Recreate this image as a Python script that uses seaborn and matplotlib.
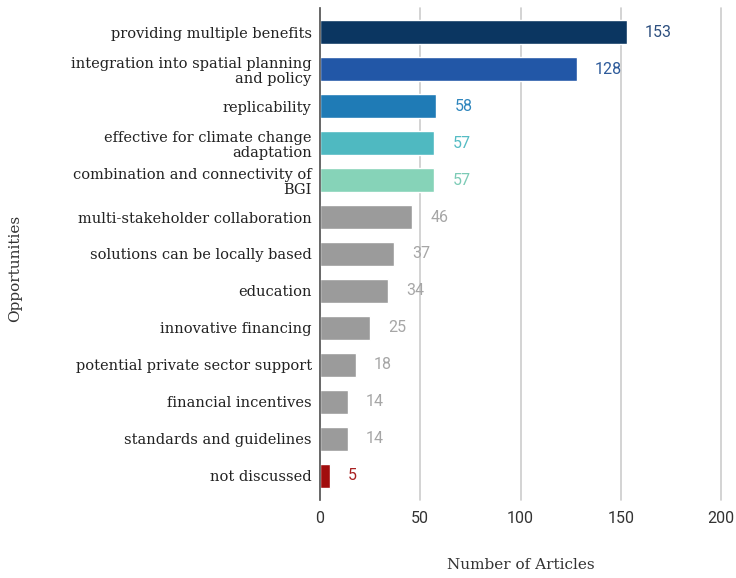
import matplotlib
matplotlib.use("Agg")
import matplotlib.pyplot as plt
import seaborn as sns
import pandas as pd

categories = [
    "providing multiple benefits",
    "integration into spatial planning\nand policy",
    "replicability",
    "effective for climate change\nadaptation",
    "combination and connectivity of\nBGI",
    "multi-stakeholder collaboration",
    "solutions can be locally based",
    "education",
    "innovative financing",
    "potential private sector support",
    "financial incentives",
    "standards and guidelines",
    "not discussed",
]
values = [153, 128, 58, 57, 57, 46, 37, 34, 25, 18, 14, 14, 5]
bar_colors = ["#0b3661", "#2257a7", "#1f7bb6", "#4fb9c1", "#86d3b8",
              "#9b9b9b", "#9b9b9b", "#9b9b9b", "#9b9b9b", "#9b9b9b",
              "#9b9b9b", "#9b9b9b", "#a10d0d"]
label_colors = ["#2d4f7f", "#2d5a9a", "#2f86bd", "#55bcc4", "#7ccbb6",
                "#a6a6a6", "#a6a6a6", "#a6a6a6", "#a6a6a6", "#a6a6a6",
                "#a6a6a6", "#a6a6a6", "#a82020"]

df = pd.DataFrame({"Opportunities": categories, "Number of Articles": values})

sns.set_theme(style="white")
fig = plt.figure(figsize=(7.36, 5.78), dpi=100)
ax = fig.add_axes([320/736, 1-500/578, (721-320)/736, 492/578])

sns.barplot(data=df, y="Opportunities", x="Number of Articles", hue="Opportunities",
            palette=bar_colors, legend=False, orient="h", width=0.66, ax=ax,
            saturation=1)

for i, (v, c) in enumerate(zip(values, label_colors)):
    ax.annotate(str(v), xy=(v, i), xytext=(13, 0), textcoords="offset points",
                va="center", ha="left", color=c, fontsize=11.5, family="Roboto")

ax.set_xlim(0, 200)
ax.set_ylim(12.65, -0.65)
ax.set_xticks([0, 50, 100, 150, 200])
ax.grid(axis="x", color="#cccccc", linewidth=1.2)
for gl in ax.get_xgridlines():
    gl.set_clip_on(False)
ax.set_axisbelow(True)
for s in ["top", "right", "bottom"]:
    ax.spines[s].set_visible(False)
ax.spines["left"].set_color("#555555")
ax.spines["left"].set_linewidth(1.2)
ax.tick_params(axis="both", length=0)
ax.tick_params(axis="x", pad=8, labelsize=11.5, labelcolor="#333333")
for t in ax.get_xticklabels():
    t.set_family("Roboto")
ax.set_yticks(range(len(categories)))
ax.set_yticklabels(categories, family="DejaVu Serif", fontsize=10.5, color="#222222",
                   linespacing=1.1)
ax.tick_params(axis="y", pad=6)
ax.set_xlabel("Number of Articles", family="DejaVu Serif", fontsize=11, color="#333333")
ax.xaxis.set_label_coords(0.5, -58/492)
ax.set_ylabel("Opportunities", family="DejaVu Serif", fontsize=11, color="#333333")
ax.yaxis.set_label_coords(-298/401, 0.47)

fig.savefig("out.png", dpi=100)
